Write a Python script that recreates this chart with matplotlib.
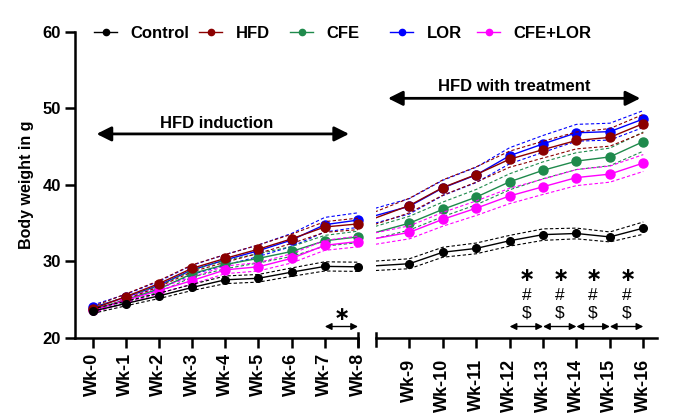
import matplotlib.pyplot as plt
import numpy as np

plt.rcParams['font.family'] = ['Liberation Sans', 'DejaVu Sans']
plt.rcParams['mathtext.fontset'] = 'custom'
plt.rcParams['mathtext.rm'] = 'Liberation Sans'
plt.rcParams['mathtext.bf'] = 'Liberation Sans:bold'

weeks = ['Wk-0', 'Wk-1', 'Wk-2', 'Wk-3', 'Wk-4', 'Wk-5', 'Wk-6', 'Wk-7', 'Wk-8',
         'Wk-9', 'Wk-10', 'Wk-11', 'Wk-12', 'Wk-13', 'Wk-14', 'Wk-15', 'Wk-16']

# mean body weight (g)
control = [23.5, 24.5, 25.5, 26.6, 27.6, 27.8, 28.6, 29.35, 29.3,
           29.7, 31.2, 31.7, 32.7, 33.5, 33.65, 33.2, 34.35]
hfd = [23.8, 25.4, 27.1, 29.1, 30.4, 31.6, 32.95, 34.5, 34.9,
       37.3, 39.65, 41.35, 43.35, 44.6, 45.8, 46.2, 48.0]
cfe = [23.7, 25.0, 26.4, 28.4, 29.6, 30.4, 31.3, 32.7, 33.2,
       35.0, 36.8, 38.4, 40.4, 41.9, 43.1, 43.65, 45.65]
lor = [24.0, 25.3, 26.9, 28.9, 30.2, 31.4, 32.8, 34.8, 35.4,
       37.2, 39.6, 41.3, 43.8, 45.35, 46.8, 46.95, 48.6]
cfe_lor = [23.6, 24.9, 26.2, 27.5, 28.9, 29.3, 30.4, 32.1, 32.6,
           33.8, 35.5, 36.95, 38.55, 39.75, 40.95, 41.4, 42.85]

# SEM (dashed bands)
control_sem = [0.3, 0.3, 0.35, 0.4, 0.5, 0.5, 0.55, 0.6, 0.6,
               0.65, 0.65, 0.7, 0.7, 0.75, 0.7, 0.65, 0.8]
hfd_sem = [0.3, 0.35, 0.4, 0.45, 0.5, 0.55, 0.6, 0.7, 0.75,
           0.95, 1.0, 1.0, 1.05, 1.1, 1.1, 1.15, 1.2]
cfe_sem = [0.3, 0.35, 0.4, 0.45, 0.55, 0.6, 0.65, 0.7, 0.75,
           0.9, 0.95, 1.0, 1.05, 1.1, 1.1, 1.15, 1.25]
lor_sem = [0.3, 0.4, 0.5, 0.6, 0.7, 0.75, 0.85, 0.95, 0.95,
           1.0, 1.0, 1.0, 1.05, 1.1, 1.1, 1.1, 1.1]
cfe_lor_sem = [0.3, 0.35, 0.4, 0.45, 0.5, 0.55, 0.6, 0.65, 0.7,
               0.85, 0.9, 0.95, 1.0, 1.0, 1.05, 1.05, 1.1]

groups = [
    ('Control', control, control_sem, 'black', 5.5, 5),
    ('HFD', hfd, hfd_sem, '#8b0000', 6.5, 4),
    ('CFE', cfe, cfe_sem, '#1f8a4c', 6.5, 3),
    ('LOR', lor, lor_sem, '#0000ff', 6.5, 2),
    ('CFE+LOR', cfe_lor, cfe_lor_sem, '#ff00ff', 6.5, 3.5),
]

# x positions: gap of 1.5 between Wk-8 and Wk-9 (broken axis)
xpos = np.array([i if i <= 8 else i + 0.5 for i in range(len(weeks))])

fig = plt.figure(figsize=(6.91, 4.16), dpi=100)
ax1 = fig.add_axes([0.1085, 0.1875, 0.4096, 0.7363])
ax2 = fig.add_axes([0.5441, 0.1875, 0.4062, 0.7363])

left_idx = np.arange(0, 9)
right_idx = np.arange(8, 17)

for ax, idx, clip in [(ax1, left_idx, False), (ax2, right_idx, True)]:
    for name, mean, sem, color, ms, z in groups:
        m = np.array(mean)[idx]
        s = np.array(sem)[idx]
        x = xpos[idx]
        ax.plot(x, m, '-o', color=color, lw=1.0, ms=ms, clip_on=clip, zorder=z)
        ax.plot(x, m + s, '--', color=color, lw=0.8, dashes=(3, 2),
                clip_on=clip, zorder=z - 0.5)
        ax.plot(x, m - s, '--', color=color, lw=0.8, dashes=(3, 2),
                clip_on=clip, zorder=z - 0.5)

for ax in (ax1, ax2):
    ax.set_ylim(20, 60)
    ax.spines['top'].set_visible(False)
    ax.spines['right'].set_visible(False)
    ax.spines['bottom'].set_linewidth(1.8)
    ax.spines['left'].set_linewidth(1.8)
    ax.tick_params(axis='both', width=1.8, length=7)

ax1.set_xlim(-0.53, 8.0)
ax1.set_xticks(xpos[left_idx])
ax1.set_xticklabels(weeks[:9], rotation=90, fontsize=13, fontweight='bold')
ax1.set_yticks([20, 30, 40, 50, 60])
ax1.set_yticklabels(['20', '30', '40', '50', '60'], fontsize=12, fontweight='bold')
ax1.tick_params(axis='y', pad=3)
ax1.set_ylabel('Body weight in g', fontsize=11.5, fontweight='bold', labelpad=6)

ax2.set_xlim(8.5, 16.9)
ax2.set_xticks(xpos[9:])
ax2.set_xticklabels(weeks[9:], rotation=90, fontsize=13, fontweight='bold')
ax2.tick_params(axis='x', pad=8)
ax2.spines['left'].set_visible(False)
ax2.set_yticks([])

# break caps on the x axis
ax1.plot([1, 1], [-0.026, 0.016], transform=ax1.transAxes, color='black',
         lw=1.8, clip_on=False)
ax2.plot([0, 0], [-0.026, 0.016], transform=ax2.transAxes, color='black',
         lw=1.8, clip_on=False)

# phase arrows
arrow_big = dict(arrowstyle='<|-|>', color='black', lw=2, mutation_scale=22,
                 shrinkA=0, shrinkB=0)
ax1.annotate('', xy=(0.12, 46.65), xytext=(7.73, 46.65), arrowprops=arrow_big,
             annotation_clip=False)
ax1.text(3.73, 48.05, 'HFD induction', ha='center', va='center',
         fontsize=12, fontweight='bold')
ax2.annotate('', xy=(8.86, 51.3), xytext=(16.41, 51.3), arrowprops=arrow_big,
             annotation_clip=False)
ax2.text(12.63, 52.9, 'HFD with treatment', ha='center', va='center',
         fontsize=12, fontweight='bold')

# significance marks
arrow_small = dict(arrowstyle='<|-|>', color='black', lw=1, mutation_scale=10,
                   shrinkA=0, shrinkB=0)
star = r'$\mathbf{\ast}$'
ax1.annotate('', xy=(7, 21.5), xytext=(8, 21.5), arrowprops=arrow_small,
             annotation_clip=False)
ax1.text(7.5, 23.0, star, ha='center', va='center', fontsize=14,
         math_fontfamily='dejavusans')

for i in range(12, 16):
    a, b = xpos[i], xpos[i + 1]
    mid = (a + b) / 2
    ax2.annotate('', xy=(a, 21.5), xytext=(b, 21.5), arrowprops=arrow_small,
                 annotation_clip=False)
    ax2.text(mid, 28.0, star, ha='center', va='center', fontsize=14,
             math_fontfamily='dejavusans')
    ax2.text(mid, 25.6, r'$\#$', ha='center', va='center', fontsize=12.5)
    ax2.text(mid, 23.3, r'$\$$', ha='center', va='center', fontsize=12.5)

# legend: one entry per box, placed along the top
legend_x = [94, 199, 290, 390, 477]
for (name, mean, sem, color, ms, z), lx in zip(groups, legend_x):
    h, = ax1.plot([], [], '-o', color=color, lw=1.0, ms=4.5)
    leg = fig.legend([h], [name], frameon=False, loc='center left',
                     bbox_to_anchor=(lx / 691, 1 - 33 / 416),
                     prop={'size': 12, 'weight': 'bold'}, handlelength=1.4,
                     handletextpad=0.8, borderpad=0, borderaxespad=0)

fig.savefig('out.png', dpi=100)
